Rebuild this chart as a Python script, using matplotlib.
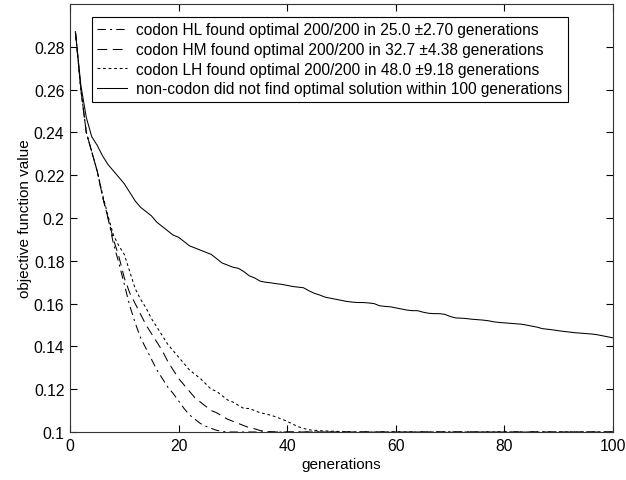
import matplotlib
matplotlib.use("Agg")
import matplotlib.pyplot as plt

plt.rcParams["font.family"] = ["Liberation Sans", "DejaVu Sans"]
plt.rcParams["lines.scale_dashes"] = False

# non-codon run, generations 1..100
gen_nc = list(range(1, 101))
val_nc = [
    0.287, 0.262, 0.247, 0.238, 0.234, 0.229, 0.225, 0.222, 0.219, 0.216,
    0.212, 0.208, 0.205, 0.203, 0.201, 0.198, 0.196, 0.194, 0.192, 0.191,
    0.189, 0.187, 0.186, 0.185, 0.184, 0.183, 0.181, 0.179, 0.178, 0.177,
    0.1765, 0.175, 0.173, 0.172, 0.1705, 0.170, 0.1697, 0.1693, 0.169, 0.1685,
    0.168, 0.1677, 0.1674, 0.166, 0.1648, 0.164, 0.163, 0.1625, 0.162, 0.1615,
    0.161, 0.1607, 0.1605, 0.1605, 0.1603, 0.160, 0.159, 0.1587, 0.1585, 0.158,
    0.1575, 0.157, 0.1567, 0.1567, 0.156, 0.1555, 0.1553, 0.1553, 0.155, 0.154,
    0.1533, 0.1532, 0.153, 0.1527, 0.1525, 0.1523, 0.152, 0.1515, 0.1512, 0.151,
    0.1508, 0.1506, 0.1504, 0.150, 0.1495, 0.149, 0.1483, 0.148, 0.1477, 0.1473,
    0.147, 0.1467, 0.1464, 0.1462, 0.146, 0.1458, 0.1455, 0.145, 0.1445, 0.144,
]

# codon runs: values until they reach the optimum, then the last point at gen 100
gen_hl = list(range(1, 30)) + [100]
val_hl = [
    0.287, 0.260, 0.240, 0.231, 0.222, 0.210, 0.200, 0.188, 0.179, 0.169,
    0.159, 0.151, 0.144, 0.139, 0.134, 0.129, 0.125, 0.121, 0.118, 0.1145,
    0.111, 0.108, 0.106, 0.104, 0.1027, 0.1017, 0.1008, 0.1003, 0.100, 0.100,
]

gen_hm = list(range(1, 39)) + [100]
val_hm = [
    0.287, 0.260, 0.240, 0.231, 0.222, 0.210, 0.200, 0.190, 0.182, 0.172,
    0.165, 0.160, 0.155, 0.150, 0.146, 0.142, 0.138, 0.133, 0.129, 0.125,
    0.122, 0.119, 0.116, 0.114, 0.112, 0.110, 0.109, 0.1075, 0.106, 0.105,
    0.104, 0.103, 0.102, 0.1015, 0.1007, 0.1003, 0.1001, 0.100, 0.100,
]

gen_lh = list(range(1, 53)) + [100]
val_lh = [
    0.287, 0.260, 0.240, 0.231, 0.222, 0.211, 0.201, 0.192, 0.187, 0.183,
    0.175, 0.167, 0.162, 0.158, 0.153, 0.149, 0.145, 0.141, 0.138, 0.135,
    0.132, 0.129, 0.127, 0.125, 0.1225, 0.120, 0.119, 0.117, 0.115, 0.114,
    0.1125, 0.111, 0.111, 0.110, 0.109, 0.1085, 0.1078, 0.107, 0.106, 0.105,
    0.1037, 0.1025, 0.1017, 0.101, 0.1008, 0.1006, 0.1005, 0.1004, 0.1003, 0.1002,
    0.1001, 0.100, 0.100,
]

labels = [
    "codon HL found optimal 200/200 in 25.0 \u00b12.70 generations",
    "codon HM found optimal 200/200 in 32.7 \u00b14.38 generations",
    "codon LH found optimal 200/200 in 48.0 \u00b19.18 generations",
    "non-codon did not find optimal solution within 100 generations",
]

fig = plt.figure(figsize=(6.26, 4.81), dpi=100)
ax = fig.add_axes([70 / 626, 48 / 481, 543 / 626, 428 / 481])

lw = 0.75
ax.plot(gen_hl, val_hl, color="black", lw=lw, linestyle=(0, (6, 3, 1.5, 3)),
        label=labels[0], clip_on=False)
ax.plot(gen_hm, val_hm, color="black", lw=lw, linestyle=(0, (7, 4)),
        label=labels[1], clip_on=False)
ax.plot(gen_lh, val_lh, color="black", lw=lw, linestyle=(0, (2, 2)),
        label=labels[2], clip_on=False)
ax.plot(gen_nc, val_nc, color="black", lw=lw, linestyle="-",
        label=labels[3], clip_on=False)

ax.set_xlim(0, 100)
ax.set_ylim(0.1, 0.3)
ax.set_xticks([0, 20, 40, 60, 80, 100])
ax.set_yticks([0.1, 0.12, 0.14, 0.16, 0.18, 0.2, 0.22, 0.24, 0.26, 0.28])
ax.set_yticklabels(["0.1", "0.12", "0.14", "0.16", "0.18", "0.2",
                    "0.22", "0.24", "0.26", "0.28"])
ax.tick_params(direction="in", length=5, width=0.8, top=True, right=True,
               labelsize=11.3, pad=4)
for sp in ax.spines.values():
    sp.set_linewidth(0.8)
    sp.set_color("#333333")

ax.set_xlabel("generations", fontsize=11, labelpad=3)
ax.set_ylabel("objective function value", fontsize=11, labelpad=1)

leg = ax.legend(loc="upper left", bbox_to_anchor=(92 / 626, 1 - 18 / 481),
                bbox_transform=fig.transFigure, fontsize=11.2, frameon=True,
                fancybox=False, framealpha=1, edgecolor="black",
                borderpad=0.35, labelspacing=0.3, handlelength=1.9,
                handletextpad=0.6, borderaxespad=0)
leg.get_frame().set_linewidth(0.8)

fig.savefig("out.png", dpi=100)
